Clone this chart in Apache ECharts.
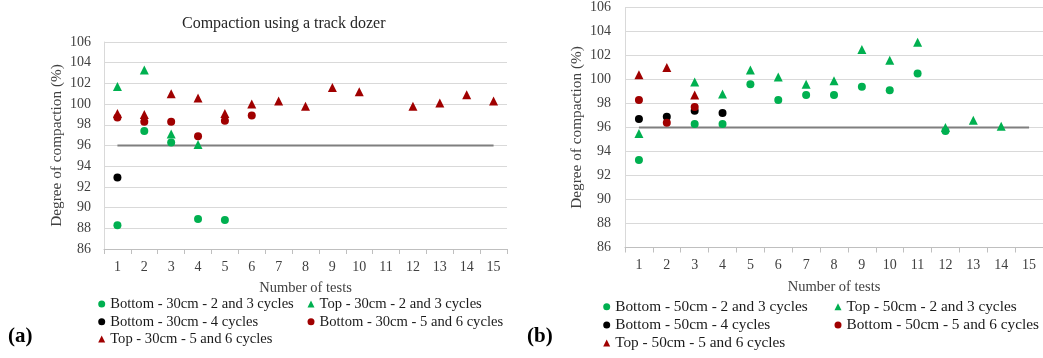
<!DOCTYPE html>
<html><head><meta charset="utf-8">
<script src="https://cdn.jsdelivr.net/npm/echarts@6/dist/echarts.min.js"></script>
<style>html,body{margin:0;padding:0;background:#fff}#c{width:1043px;height:358px}</style>
</head><body><div id="c"></div>
<script>
// ---------- DATA ----------
const categories = ['1','2','3','4','5','6','7','8','9','10','11','12','13','14','15'];
const yMin = 86, yMax = 106, yStep = 2;
const targetValue = [96, 96];           // horizontal requirement line (start, end)
const targetCats = ['1', '15'];

// (a) 30 cm layers – values per test number (null = no test)
const a_bottom_23 = [88.3, 97.4, 96.3, 88.9, 88.8];
const a_top_23    = [101.7, 103.3, 97.1, 96.1];
const a_bottom_4  = [92.9];
const a_bottom_56 = [98.7, 98.3, 98.3, 96.9, 98.4, 98.9];
const a_top_56    = [99.1, 99.0, 101.0, 100.6, 99.1, 100.0, 100.3, 99.8, 101.6, 101.2, null, 99.8, 100.1, 100.9, 100.3];

// (b) 50 cm layers
const b_bottom_23 = [93.3, null, 96.3, 96.3, 99.6, 98.3, 98.7, 98.7, 99.4, 99.1, 100.5, 95.7];
const b_top_23    = [95.5, null, 99.8, 98.8, 100.8, 100.2, 99.6, 99.9, 102.5, 101.6, 103.1, 96.0, 96.6, 96.1];
const b_bottom_4  = [96.7, 96.9, 97.4, 97.2];
const b_bottom_56 = [98.3, 96.4, 97.7];
const b_top_56    = [100.4, 101.0, 98.7];

const names = {
  a_bottom_23: 'Bottom - 30cm - 2 and 3 cycles',
  a_top_23: 'Top - 30cm - 2 and 3 cycles',
  a_bottom_4: 'Bottom - 30cm - 4 cycles',
  a_bottom_56: 'Bottom - 30cm - 5 and 6 cycles',
  a_top_56: 'Top - 30cm - 5 and 6 cycles',
  b_bottom_23: 'Bottom - 50cm - 2 and 3 cycles',
  b_top_23: 'Top - 50cm - 2 and 3 cycles',
  b_bottom_4: 'Bottom - 50cm - 4 cycles',
  b_bottom_56: 'Bottom - 50cm - 5 and 6 cycles',
  b_top_56: 'Top - 50cm - 5 and 6 cycles'
};
const titleA = 'Compaction using a track dozer';
const yTitle = 'Degree of compaction (%)';
const xTitle = 'Number of tests';

// ---------- STYLE ----------
const GREEN = '#00B050', RED = '#A00000', BLACK = '#000000';
const SERIF = '"Liberation Serif","Times New Roman",serif';

function pts(arr){
  const out = [];
  arr.forEach((v,i)=>{ if(v!==null && v!==undefined) out.push([categories[i], v]); });
  return out;
}
function sc(name, arr, idx, color, symbol){
  return {type:'scatter', name:name, xAxisIndex:idx, yAxisIndex:idx, data:pts(arr),
    symbol:symbol, symbolSize: symbol==='triangle'?9:8,
    itemStyle:{color:color, opacity:1}, z:3};
}
function target(idx){
  return {type:'line', name:'target'+idx, xAxisIndex:idx, yAxisIndex:idx,
    data: targetCats.map((c,i)=>[c, targetValue[i]]),
    showSymbol:false, symbol:'none', lineStyle:{color:'#7f7f7f', width:2}, z:2, silent:true};
}
function xAx(idx){
  return {type:'category', gridIndex:idx, data:categories, boundaryGap:true,
    axisLine:{lineStyle:{color:'#bfbfbf'}},
    axisTick:{show:true, length:5, lineStyle:{color:'#bfbfbf'}, alignWithLabel:false},
    axisLabel:{color:'#404040', fontFamily:SERIF, fontSize:14, margin:11},
    splitLine:{show:false},
    name:xTitle, nameLocation:'middle', nameGap:32,
    nameTextStyle:{color:'#404040', fontFamily:SERIF, fontSize:14.5}};
}
function yAx(idx, gap, lm){
  return {type:'value', gridIndex:idx, min:yMin, max:yMax, interval:yStep,
    axisLine:{show:true, lineStyle:{color:'#d9d9d9'}},
    axisTick:{show:false},
    axisLabel:{color:'#404040', fontFamily:SERIF, fontSize:14, margin:lm},
    splitLine:{show:true, lineStyle:{color:'#d9d9d9', width:1}},
    name:yTitle, nameLocation:'middle', nameGap:gap, nameRotate:90,
    nameTextStyle:{color:'#404040', fontFamily:SERIF, fontSize:15.3}};
}
function leg(name, cx, cy, fs){
  return {data:[name], left:cx-3.5, top:cy-8, orient:'horizontal',
    itemWidth:7, itemHeight:7, itemGap:0, padding:0, selectedMode:false,
    textStyle:{color:'#1a1a1a', fontFamily:SERIF, fontSize:fs, lineHeight:16}};
}

const option = {
  animation:false,
  backgroundColor:'#ffffff',
  title:{text:titleA, left:177, top:11,
    textStyle:{color:'#262626', fontFamily:SERIF, fontSize:16, fontWeight:'normal'}},
  grid:[
    {left:104, top:42, width:403, height:207},
    {left:625, top:7.5, width:423, height:240}
  ],
  xAxis:[xAx(0), xAx(1)],
  yAxis:[yAx(0, 40, 13), yAx(1, 41, 14)],
  legend:[
    leg(names.a_bottom_23, 101.7, 304, 14.6),
    leg(names.a_bottom_4, 101.7, 321.7, 14.6),
    leg(names.a_top_56, 101.7, 339, 14.6),
    leg(names.a_top_23, 311, 304, 14.6),
    leg(names.a_bottom_56, 311, 321.7, 14.6),
    leg(names.b_bottom_23, 606.7, 306.7, 15.3),
    leg(names.b_bottom_4, 606.7, 325, 15.3),
    leg(names.b_top_56, 606.7, 343, 15.3),
    leg(names.b_top_23, 838, 306.7, 15.3),
    leg(names.b_bottom_56, 838, 325, 15.3)
  ],
  graphic:[
    {type:'text', left:8, top:326, style:{text:'(a)', font:'bold 21px "Liberation Serif", serif', fill:'#000'}},
    {type:'text', left:527, top:326, style:{text:'(b)', font:'bold 21px "Liberation Serif", serif', fill:'#000'}}
  ],
  series:[
    target(0),
    sc(names.a_bottom_23, a_bottom_23, 0, GREEN, 'circle'),
    sc(names.a_top_23, a_top_23, 0, GREEN, 'triangle'),
    sc(names.a_bottom_4, a_bottom_4, 0, BLACK, 'circle'),
    sc(names.a_bottom_56, a_bottom_56, 0, RED, 'circle'),
    sc(names.a_top_56, a_top_56, 0, RED, 'triangle'),
    target(1),
    sc(names.b_bottom_23, b_bottom_23, 1, GREEN, 'circle'),
    sc(names.b_top_23, b_top_23, 1, GREEN, 'triangle'),
    sc(names.b_bottom_4, b_bottom_4, 1, BLACK, 'circle'),
    sc(names.b_bottom_56, b_bottom_56, 1, RED, 'circle'),
    sc(names.b_top_56, b_top_56, 1, RED, 'triangle')
  ]
};
const chart = echarts.init(document.getElementById('c'), null, {renderer:'canvas'});
chart.setOption(option);
</script>
</body></html>
